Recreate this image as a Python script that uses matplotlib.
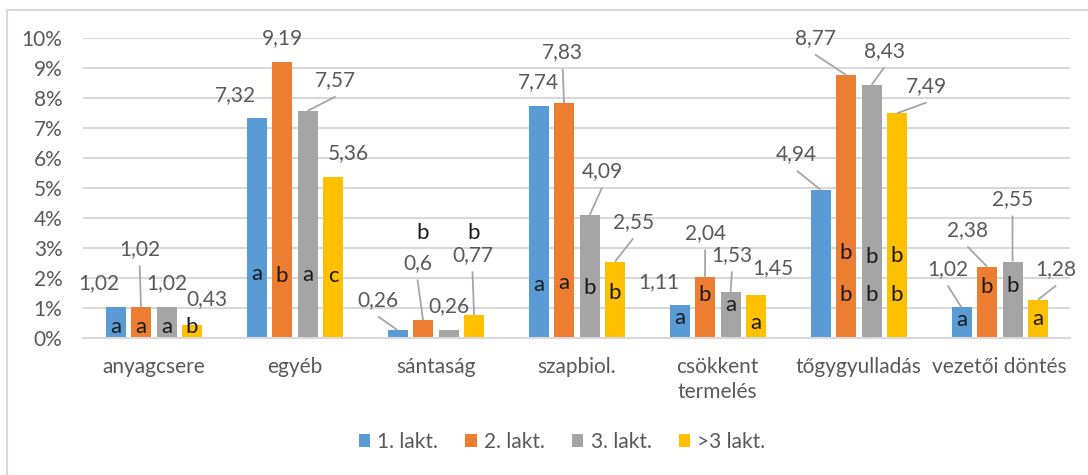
import matplotlib
matplotlib.use("Agg")
import matplotlib.pyplot as plt
from matplotlib.patches import Rectangle
import numpy as np

plt.rcParams['font.family'] = ['Lato', 'DejaVu Sans']

# adatok
categories = ['anyagcsere', 'egyéb', 'sántaság', 'szapbiol.', 'csökkent\ntermelés',
              'tőgygyulladás', 'vezetői döntés']
series = ['1. lakt.', '2. lakt.', '3. lakt.', '>3 lakt.']
lakt1 = [1.02, 7.32, 0.26, 7.74, 1.11, 4.94, 1.02]
lakt2 = [1.02, 9.19, 0.6, 7.83, 2.04, 8.77, 2.38]
lakt3 = [1.02, 7.57, 0.26, 4.09, 1.53, 8.43, 2.55]
lakt4 = [0.43, 5.36, 0.77, 2.55, 1.45, 7.49, 1.28]
# betűjelek (szignifikancia), "bb" = két betű egymás alatt
letters = [['a', 'a', 'a', 'b'],
           ['a', 'b', 'a', 'c'],
           ['', 'b', '', 'b'],
           ['a', 'a', 'b', 'b'],
           ['a', 'b', 'a', 'a'],
           ['', 'bb', 'bb', 'bb'],
           ['a', 'b', 'b', 'a']]

colors = ['#5B9BD5', '#ED7D31', '#A5A5A5', '#FFC000']
values = [lakt1, lakt2, lakt3, lakt4]

# elrendezés: címkék helye (x eltolás a kategória közepétől, y)
label_pos = [
    [(-0.39, 1.83), (-0.10, 2.97), (0.09, 1.83), (0.38, 1.30)],
    [(-0.42, 8.10), (-0.09, 10.0), (0.29, 8.60), (0.38, 6.17)],
    [(-0.41, 1.27), (-0.13, 2.50), (0.09, 1.07), (0.26, 2.77)],
    [(-0.27, 8.53), (-0.10, 9.53), (0.18, 5.57), (0.40, 3.87)],
    [(-0.42, 1.87), (-0.09, 3.50), (0.10, 2.77), (0.39, 2.33)],
    [(-0.44, 6.13), (-0.31, 10.0), (0.18, 9.57), (0.48, 8.40)],
    [(-0.37, 2.30), (-0.23, 3.60), (0.09, 4.63), (0.40, 2.30)],
]
leader = [
    [0, 1, 0, 0],
    [0, 0, 1, 0],
    [1, 1, 0, 1],
    [0, 1, 1, 1],
    [0, 1, 1, 0],
    [1, 1, 1, 1],
    [1, 1, 1, 1],
]
letter_y = [
    [0.37, 0.37, 0.37, 0.37],
    [2.15, 2.05, 2.1, 2.05],
    [0, 3.5, 0, 3.5],
    [1.77, 1.83, 1.67, 1.5],
    [0.67, 1.43, 1.1, 0.5],
    [0, (2.83, 1.43), (2.7, 1.43), (2.73, 1.43)],
    [0.6, 1.7, 1.73, 0.63],
]

W, H = 1088, 475
fig = plt.figure(figsize=(W / 100, H / 100), dpi=100)
ax = fig.add_axes([83.3 / W, 1 - 338 / H, 987 / W, 300 / H])

x = np.arange(len(categories))
pitch = 0.181
width = 0.142
txt = '#595959'
fs = 15

for j in range(4):
    ax.bar(x + (j - 1.5) * pitch, values[j], width, color=colors[j],
           label=series[j], zorder=2)

for i in range(len(categories)):
    for j in range(4):
        bx = i + (j - 1.5) * pitch
        v = values[j][i]
        lx, ly = label_pos[i][j]
        ax.text(i + lx, ly, str(v).replace('.', ','), ha='center', va='center',
                fontsize=fs, color=txt, zorder=4, clip_on=False)
        if leader[i][j]:
            ax.plot([i + lx, bx], [ly - 0.55, v], color='#A6A6A6', lw=1.3,
                    zorder=3, solid_capstyle='butt')
        let = letters[i][j]
        if not let:
            continue
        ys = letter_y[i][j]
        if not isinstance(ys, tuple):
            ys = (ys,)
        for k, yy in enumerate(ys):
            kw = {}
            if yy > v:
                kw['bbox'] = dict(facecolor='white', edgecolor='none', pad=1)
            ax.text(bx, yy, let[k], ha='center', va='center', fontsize=16,
                    color='#1a1a1a', zorder=5, **kw)

ax.set_xlim(-0.5, 6.5)
ax.set_ylim(0, 10)
ax.set_yticks(range(0, 11))
ax.set_yticklabels([f'{t}%' for t in range(0, 11)])
ax.set_xticks(x)
ax.set_xticklabels(categories)
for lbl in ax.get_xticklabels():
    lbl.set_linespacing(1.3)
ax.tick_params(axis='both', length=0, labelsize=fs, labelcolor=txt)
ax.tick_params(axis='x', pad=14)
ax.tick_params(axis='y', pad=15)
ax.yaxis.grid(True, color='#D9D9D9', lw=1.5, zorder=0)
ax.set_axisbelow(True)
for s in ['top', 'right', 'left']:
    ax.spines[s].set_visible(False)
ax.spines['bottom'].set_color('#D9D9D9')
ax.spines['bottom'].set_linewidth(1.5)

fig.legend(loc='center', bbox_to_anchor=(562 / W, 1 - 442 / H), ncol=4,
           frameon=False, fontsize=fs, labelcolor=txt, handlelength=0.55,
           handleheight=0.55, handletextpad=0.35, columnspacing=1.3)

fig.patches.append(Rectangle((7 / W, -0.1), 1.2, (H - 10) / H + 0.1,
                             transform=fig.transFigure, fill=False,
                             edgecolor='#D9D9D9', lw=1.5))

fig.savefig('out.png', dpi=100)
